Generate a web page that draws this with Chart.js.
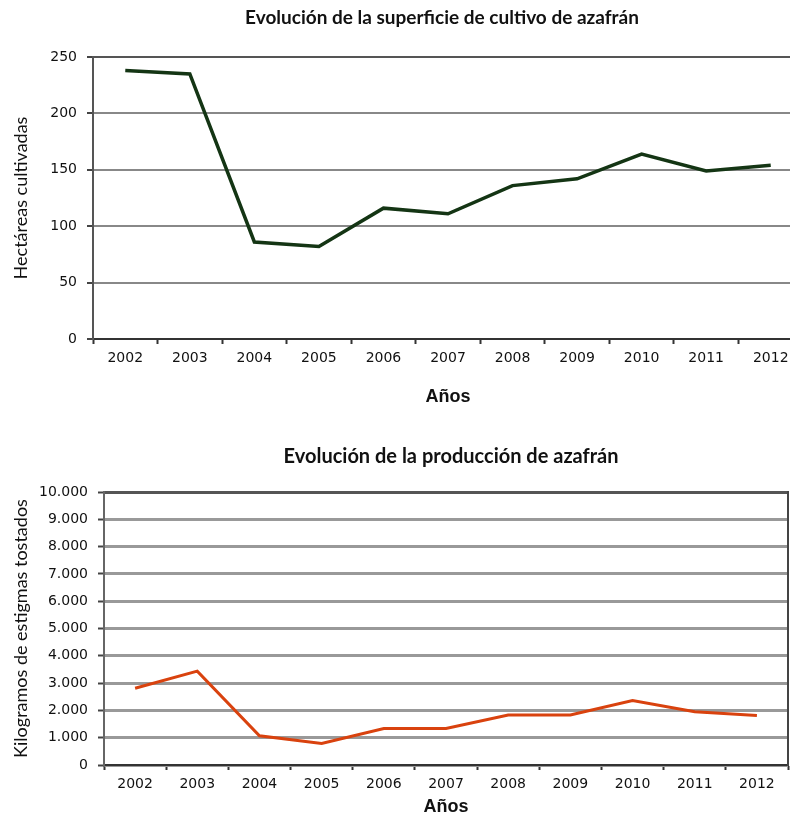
<!DOCTYPE html>
<html>
<head>
<meta charset="utf-8">
<script src="https://cdn.jsdelivr.net/npm/chart.js@4"></script>
<style>
html,body{margin:0;padding:0;background:#fff;overflow:hidden;width:790px;height:818px}
canvas{position:absolute;left:0}
#superficie{top:0}
#produccion{top:420px}
</style>
</head>
<body>
<canvas id="superficie" width="803" height="410"></canvas>
<canvas id="produccion" width="790" height="398"></canvas>
<script>
// años de campaña
const years = ["2002","2003","2004","2005","2006","2007","2008","2009","2010","2011","2012"]

// hectáreas cultivadas por año
const hectareas = [238,235,86,82,116,111,136,142,164,149,154]

// kilos de estigmas tostados por año
const kilos = [2810,3440,1070,790,1340,1340,1830,1830,2360,1950,1810]

// ticks del eje y
const hectTicks = [0,50,100,150,200,250]
const kiloTicks = [0,1000,2000,3000,4000,5000,6000,7000,8000,9000,10000]

const tickFont = {family:"DejaVu Sans", size:14}

// título centrado sobre el área de dibujo
const headline = {
  id:"headline",
  afterDraw(chart, args, opts){
    const ctx = chart.ctx
    const area = chart.chartArea
    ctx.save()
    ctx.font = "bold " + opts.size + "px Lato"
    ctx.fillStyle = "#111"
    ctx.textAlign = "center"
    ctx.textBaseline = "middle"
    ctx.fillText(opts.text, (area.left+area.right)/2 + (opts.dx||0), opts.y)
    ctx.restore()
  }
}

// borde derecho del recuadro
const frame = {
  id:"frame",
  afterDraw(chart, args, opts){
    if(!opts.right) return
    const ctx = chart.ctx
    const area = chart.chartArea
    ctx.save()
    ctx.strokeStyle = opts.color
    ctx.lineWidth = 2
    ctx.beginPath()
    ctx.moveTo(area.right, area.top-1)
    ctx.lineTo(area.right, area.bottom+1)
    ctx.stroke()
    ctx.restore()
  }
}

function thousands(v){
  return String(v).replace(/\B(?=(\d{3})+(?!\d))/g, ".")
}

function makeChart(id, cfg){
  const top = cfg.ticks[cfg.ticks.length-1]
  return new Chart(document.getElementById(id), {
    type:"line",
    data:{
      labels:years,
      datasets:[{
        data:cfg.values,
        borderColor:cfg.color,
        borderWidth:cfg.lineWidth,
        pointRadius:0,
        tension:0,
        fill:false
      }]
    },
    plugins:[headline, frame],
    options:{
      responsive:false,
      animation:false,
      events:[],
      layout:{padding:{top:cfg.padTop, right:cfg.padRight, left:0, bottom:0}},
      plugins:{
        legend:{display:false},
        tooltip:{enabled:false},
        headline:{text:cfg.title, y:cfg.titleY, dx:cfg.titleDx, size:cfg.titleSize},
        frame:{right:cfg.rightBorder, color:"#444"}
      },
      scales:{
        x:{
          offset:true,
          grid:{
            offset:true,
            drawOnChartArea:false,
            tickLength:5,
            tickColor:"#333",
            tickWidth:2
          },
          border:{color:"#333", width:2},
          ticks:{color:"#111", font:tickFont, padding:6, maxRotation:0, autoSkip:false},
          title:{display:true, text:"Años", color:"#111",
            font:{family:"Liberation Sans", size:18, weight:"bold"},
            padding:{top:0, bottom:cfg.xTitlePad}},
          afterFit(scale){ scale.height = cfg.xHeight }
        },
        y:{
          min:0,
          max:top,
          afterBuildTicks(scale){ scale.ticks = cfg.ticks.map(v=>({value:v})) },
          grid:{
            color:c=>c.tick && c.tick.value===top ? "#555" : cfg.gridColor,
            lineWidth:cfg.gridWidth,
            tickLength:6,
            tickColor:"#444",
            tickWidth:2
          },
          border:{color:cfg.axisColor, width:2},
          ticks:{color:"#111", font:tickFont, padding:10, callback:v=>thousands(v)},
          title:{display:true, text:cfg.yTitle, color:"#111",
            font:{family:"Lato", size:18},
            padding:{top:10, bottom:0}},
          afterFit(scale){ scale.width = cfg.yWidth }
        }
      }
    }
  })
}

makeChart("superficie", {
  values:hectareas,
  ticks:hectTicks,
  color:"#143514",
  lineWidth:3.5,
  title:"Evolución de la superficie de cultivo de azafrán",
  titleSize:19,
  titleY:18,
  titleDx:-6,
  yTitle:"Hectáreas cultivadas",
  padTop:57,
  padRight:0,
  xHeight:71,
  xTitlePad:2,
  yWidth:93,
  gridColor:"#888",
  gridWidth:2,
  axisColor:"#555",
  rightBorder:false
})

makeChart("produccion", {
  values:kilos,
  ticks:kiloTicks,
  color:"#d9420e",
  lineWidth:3,
  title:"Evolución de la producción de azafrán",
  titleSize:20,
  titleY:37,
  titleDx:5,
  yTitle:"Kilogramos de estigmas tostados",
  padTop:72,
  padRight:2,
  xHeight:53,
  xTitlePad:0,
  yWidth:104,
  gridColor:"#999",
  gridWidth:3,
  axisColor:"#666",
  rightBorder:true
})
</script>
</body>
</html>
